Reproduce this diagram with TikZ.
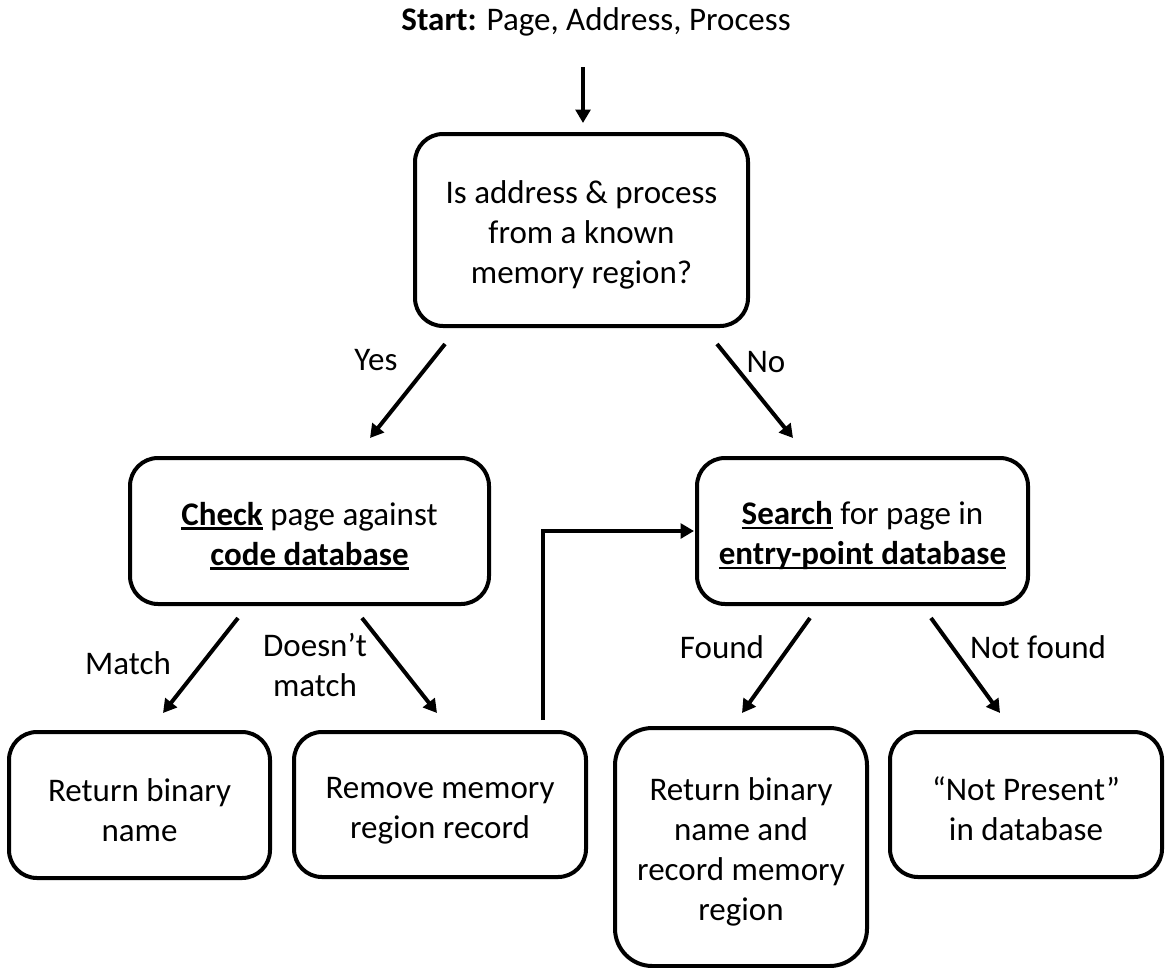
\documentclass[tikz,border=0pt]{standalone}
\usepackage{fontspec}
\setmainfont{Carlito}
\usetikzlibrary{arrows.meta,calc}
% bold, underlined keyword
\newsavebox{\keywbox}
\newcommand{\keyw}[1]{\sbox{\keywbox}{\textbf{#1}}%
  \rlap{\rule[-3.5pt]{\wd\keywbox}{1.8pt}}\usebox{\keywbox}}
% taller first line, lowers box text a little
\newcommand{\firstline}{\rule{0pt}{24.5pt}}

\begin{document}
\begin{tikzpicture}[x=0.75pt,y=-0.75pt,
  txt/.style={font=\fontsize{24.75}{30}\selectfont},
  box/.style={txt, draw, line width=3pt, rounded corners=21pt, align=center,
              inner sep=0pt, outer sep=0pt},
  sz/.style 2 args={minimum width=#1*0.75pt, minimum height=#2*0.75pt},
  lbl/.style={txt, inner sep=0pt, align=center},
  arr/.style={line width=3pt, -{Triangle[length=10pt,width=11pt]}}]
\useasboundingbox (0,0) rectangle (1173,967);

% entry point
\node[lbl, anchor=base] (start) at (596,30) {\textbf{Start:} Page, Address, Process};

% decision and process boxes
\node[box, sz={333}{192}] (top) at (581.5,230)
  {\firstline Is address \& process\\from a known\\memory region?};
\node[box, sz={359}{146}] (check) at (309.5,531)
  {\firstline\keyw{Check} page against\\\keyw{code database}};
\node[box, sz={331}{146}] (search) at (862.5,531)
  {\firstline\keyw{Search} for page in\\\keyw{entry-point database}};
\node[box, sz={261}{146}] (ret1) at (139.5,805)
  {\firstline Return binary\\name};
\node[box, sz={292}{145}] (remove) at (440,804.5)
  {\firstline Remove memory\\region record};
\node[box, sz={252}{238}, rounded corners=28pt] (ret2) at (741,847)
  {\firstline Return binary\\name and\\record memory\\region};
\node[box, sz={272}{145}] (np) at (1026,804.5)
  {\firstline “Not Present”\\in database};

% connector end points
\coordinate (sA) at ($(top.north)+(1.5,-67)$);
\coordinate (sB) at ($(top.north)+(1.5,-11)$);
\coordinate (yA) at ($(top.south)+(-136.5,18)$);
\coordinate (yB) at ($(check.north)+(60.5,-20)$);
\coordinate (nA) at ($(top.south)+(135.5,18)$);
\coordinate (nB) at ($(search.north)+(-69.5,-20)$);
\coordinate (mA) at ($(check.south)+(-71.5,14)$);
\coordinate (mB) at ($(ret1.north)+(23.5,-19)$);
\coordinate (dA) at ($(check.south)+(52.5,14)$);
\coordinate (dB) at ($(remove.north)+(-3,-19)$);
\coordinate (fA) at ($(search.south)+(-52.5,14)$);
\coordinate (fB) at ($(ret2.north)+(1,-15)$);
\coordinate (xA) at ($(search.south)+(68.5,14)$);
\coordinate (xB) at ($(np.north)+(-26,-19)$);
\coordinate (lA) at ($(remove.north)+(103,-12)$);
\coordinate (lB) at ($(search.west)+(-3,0)$);

% connectors
\draw[arr] (sA) -- (sB);
\draw[arr] (yA) -- (yB);
\draw[arr] (nA) -- (nB);
\draw[arr] (mA) -- (mB);
\draw[arr] (dA) -- (dB);
\draw[arr] (fA) -- (fB);
\draw[arr] (xA) -- (xB);
\draw[arr] (lA) |- (lB);

% connector labels
\node[lbl, anchor=base] (lyes) at (376,370) {Yes};
\node[lbl, anchor=base] (lno) at (766,372) {No};
\node[lbl, anchor=base] (lmatch) at (128,674) {Match};
\node[lbl] (ldm) at (315,665) {Doesn’t\\match};
\node[lbl, anchor=base] (lfound) at (722,658) {Found};
\node[lbl, anchor=base] (lnf) at (1038,658) {Not found};
\end{tikzpicture}
\end{document}
